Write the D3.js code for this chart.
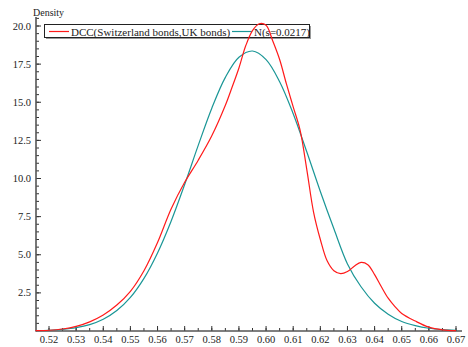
<!DOCTYPE html>
<html>
<head>
<meta charset="utf-8">
<script src="https://cdn.jsdelivr.net/npm/d3@7"></script>
<style>
  body { margin: 0; background: #fff; }
  svg text { font-family: "Liberation Serif", "DejaVu Serif", serif; fill: #222; }
</style>
</head>
<body>
<svg id="chart" width="468" height="347"></svg>
<script>
// values
const dccX = [0.515, 0.52, 0.525, 0.53, 0.535, 0.54, 0.545, 0.55, 0.555, 0.56, 0.565, 0.57, 0.575, 0.58, 0.585, 0.5875,
  0.59, 0.5925, 0.595, 0.5975, 0.60, 0.6025, 0.605, 0.6075, 0.61, 0.6125, 0.615, 0.6175, 0.62, 0.6225, 0.625, 0.6275,
  0.63, 0.6325, 0.635, 0.6375, 0.64, 0.6425, 0.645, 0.6475, 0.65, 0.655, 0.66, 0.665, 0.67];
const dccY = [0.02, 0.05, 0.13, 0.3, 0.6, 1.05, 1.7, 2.6, 3.95, 5.8, 8.0, 9.75, 11.2, 12.8, 14.8, 16.0,
  17.25, 18.7, 19.7, 20.15, 20.05, 19.0, 17.8, 16.2, 14.7, 13.2, 10.6, 7.8, 6.0, 4.6, 3.95, 3.76,
  3.9, 4.25, 4.5, 4.35, 3.7, 2.9, 2.15, 1.6, 1.15, 0.65, 0.25, 0.08, 0.03];

const normX = [0.515, 0.52, 0.525, 0.53, 0.535, 0.54, 0.545, 0.55, 0.555, 0.56, 0.565, 0.57, 0.575, 0.58, 0.585,
  0.59, 0.595, 0.60, 0.605, 0.61, 0.615, 0.62, 0.625, 0.63, 0.635, 0.64, 0.645, 0.65, 0.655, 0.66, 0.665, 0.67];
const normY = [0.02, 0.05, 0.11, 0.22, 0.42, 0.77, 1.34, 2.2, 3.45, 5.12, 7.2, 9.61, 12.17, 14.61, 16.63,
  17.95, 18.36, 17.8, 16.35, 14.25, 11.75, 9.15, 6.7, 4.4, 2.9, 1.82, 1.1, 0.62, 0.35, 0.18, 0.09, 0.04];

const xTicks = [0.52, 0.53, 0.54, 0.55, 0.56, 0.57, 0.58, 0.59, 0.60, 0.61, 0.62, 0.63, 0.64, 0.65, 0.66, 0.67];
const yTicks = [2.5, 5.0, 7.5, 10.0, 12.5, 15.0, 17.5, 20.0];

const seriesNames = ["DCC(Switzerland bonds,UK bonds)", "N(s=0.0217)"];
const seriesColors = ["#ff1a1a", "#1a9696"];

const svg = d3.select("#chart");
const axLeft = 36, axBottom = 331, axRight = 462, axTop = 17;

const x = d3.scaleLinear().domain([0.52, 0.67]).range([49, 456]);
const y = d3.scaleLinear().domain([0, 20]).range([axBottom, 26]);

// minor ticks
const xMinor = d3.range(0.515, 0.6701, 0.005).filter(v => x(v) > axLeft + 2 && x(v) <= axRight);
const yMinor = d3.range(0.5, 20.51, 0.5);

const ax = svg.append("g");
ax.selectAll(".xmin").data(xMinor).enter().append("line")
    .attr("x1", d => x(d)).attr("x2", d => x(d))
    .attr("y1", axBottom).attr("y2", axBottom - 3)
    .attr("stroke", "#333").attr("stroke-width", 1);
ax.selectAll(".xmaj").data(xTicks).enter().append("line")
    .attr("x1", d => x(d)).attr("x2", d => x(d))
    .attr("y1", axBottom).attr("y2", axBottom - 5)
    .attr("stroke", "#333").attr("stroke-width", 1);
ax.selectAll(".xlab").data(xTicks).enter().append("text")
    .attr("x", d => x(d)).attr("y", axBottom + 12)
    .attr("text-anchor", "middle")
    .style("font-size", "10.5px")
    .text(d => d3.format(".2f")(d));

ax.selectAll(".ymin").data(yMinor).enter().append("line")
    .attr("x1", axLeft).attr("x2", axLeft + 3)
    .attr("y1", d => y(d)).attr("y2", d => y(d))
    .attr("stroke", "#333").attr("stroke-width", 1);
ax.selectAll(".ymaj").data(yTicks).enter().append("line")
    .attr("x1", axLeft).attr("x2", axLeft + 5)
    .attr("y1", d => y(d)).attr("y2", d => y(d))
    .attr("stroke", "#333").attr("stroke-width", 1);
ax.selectAll(".ylab").data(yTicks).enter().append("text")
    .attr("x", axLeft - 5).attr("y", d => y(d) + 3.5)
    .attr("text-anchor", "end")
    .style("font-size", "10.5px")
    .text(d => d3.format(".1f")(d));

// axis lines
ax.append("line").attr("x1", axLeft).attr("x2", axLeft).attr("y1", axTop).attr("y2", axBottom + 0.5)
    .attr("stroke", "#555").attr("stroke-width", 1.6);
ax.append("line").attr("x1", axLeft).attr("x2", axRight).attr("y1", axBottom).attr("y2", axBottom)
    .attr("stroke", "#555").attr("stroke-width", 1.6);

svg.append("text").attr("x", 33).attr("y", 16)
    .style("font-size", "10px").text("Density");

// legend (drawn under the curves, the red peak runs over it)
const lg = svg.append("g");
lg.append("rect").attr("x", 46).attr("y", 26).attr("width", 265).attr("height", 13)
    .attr("fill", "#999");
lg.append("rect").attr("x", 44.5).attr("y", 24.5).attr("width", 265).attr("height", 13)
    .attr("fill", "#fff").attr("stroke", "#222").attr("stroke-width", 1);
const legendX = [49, 232];
seriesNames.forEach((name, i) => {
    lg.append("line").attr("x1", legendX[i]).attr("x2", legendX[i] + 20)
        .attr("y1", 31.5).attr("y2", 31.5)
        .attr("stroke", seriesColors[i]).attr("stroke-width", 1.2);
    lg.append("text").attr("x", legendX[i] + 22).attr("y", 35.5)
        .style("font-size", "11px").text(name);
});

// curves
const line = d3.line()
    .x(d => x(d[0]))
    .y(d => y(d[1]))
    .curve(d3.curveCatmullRom.alpha(0.5));

svg.append("path")
    .datum(normX.map((v, i) => [v, normY[i]]))
    .attr("d", line)
    .attr("fill", "none")
    .attr("stroke", seriesColors[1])
    .attr("stroke-width", 1.2);

svg.append("path")
    .datum(dccX.map((v, i) => [v, dccY[i]]))
    .attr("d", line)
    .attr("fill", "none")
    .attr("stroke", seriesColors[0])
    .attr("stroke-width", 1.2);
</script>
</body>
</html>
